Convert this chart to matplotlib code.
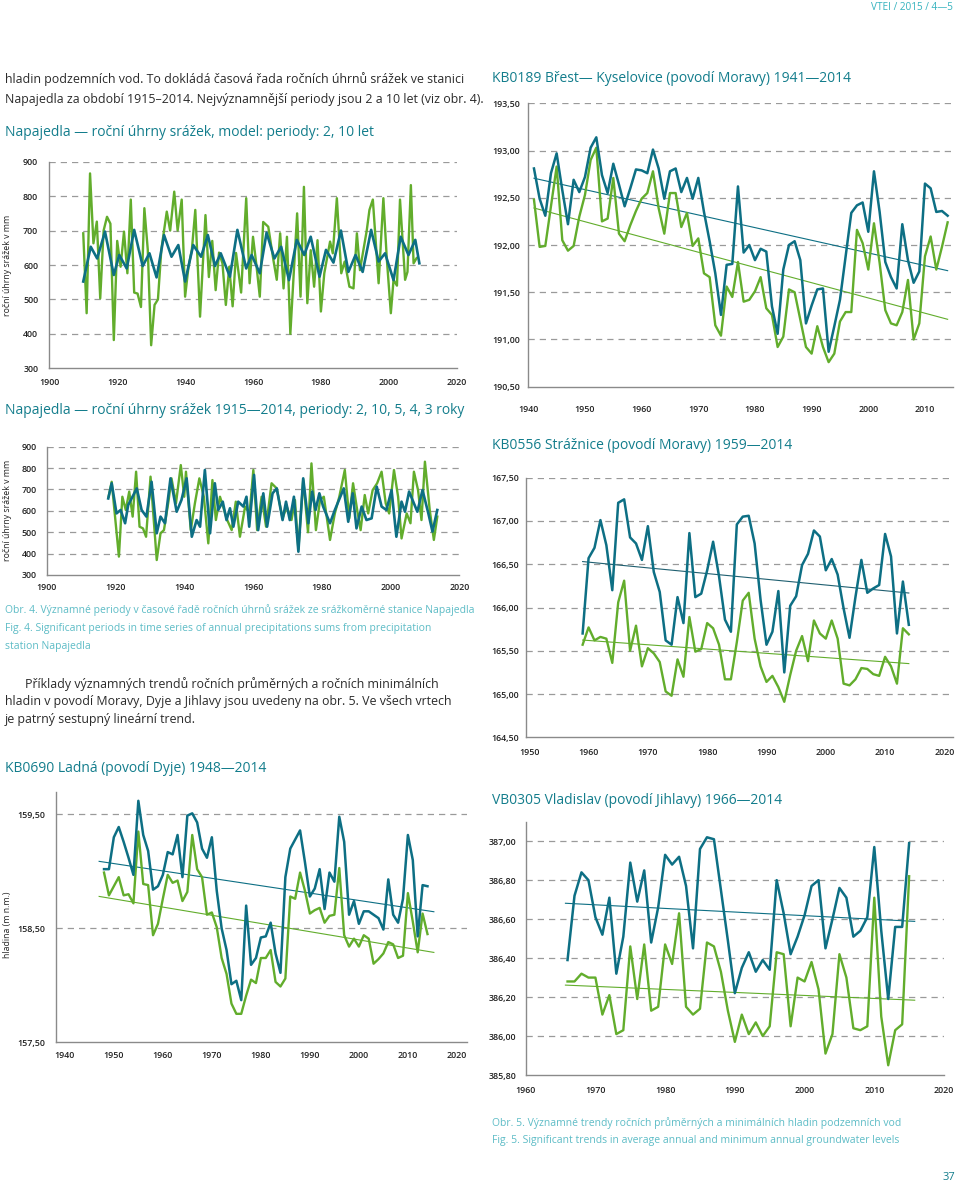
import numpy as np
import matplotlib
matplotlib.use("Agg")
import matplotlib.pyplot as plt
from matplotlib.ticker import FuncFormatter, MultipleLocator

plt.rcParams["font.family"] = ["Open Sans", "DejaVu Sans"]

W, H = 960, 1183
BLUE = "#0d6f84"
GREEN = "#62ad2c"
TITLE = "#137d8c"
CAPTION = "#5dbcc6"
AXIS = "#8a8a8a"
GRID = "#9a9a9a"

# ---------------------------------------------------------------------------
# data
# ---------------------------------------------------------------------------

# Napajedla, model periods 2, 10 let (measured series + model)
np1_green_years = [1910, 1911, 1912, 1913, 1914, 1915, 1916, 1917, 1918, 1919, 1920, 1921, 1922,
                   1923, 1924, 1925, 1926, 1927, 1928, 1929, 1930, 1931, 1932, 1933, 1934.6,
                   1935.6, 1936.8, 1937.8, 1939, 1940, 1941, 1942, 1943, 1944.4, 1946, 1947,
                   1948, 1949, 1950, 1951, 1952, 1953, 1954, 1955, 1956.5, 1958, 1959, 1960,
                   1961, 1962, 1963, 1964.5, 1966, 1967, 1968, 1969, 1970, 1971, 1972, 1973,
                   1974, 1975, 1976, 1977, 1978, 1979, 1980, 1981, 1982.7, 1983.5, 1984.7,
                   1986, 1987, 1988.4, 1989.6, 1990.6, 1991.5, 1993.5, 1994.3, 1995.3, 1997,
                   1998.4, 1999.4, 2000.6, 2001.4, 2002.4, 2003.3, 2004.8, 2005.5, 2006.5,
                   2007.3, 2008.2]
np1_green_vals = [692, 460, 866, 663, 726, 503, 700, 740, 720, 382, 670, 595, 697,
                  576, 790, 520, 517, 478, 765, 645, 367, 484, 500, 645, 755,
                  700, 813, 700, 790, 508, 595, 645, 760, 450, 745, 565,
                  670, 527, 636, 605, 484, 595, 480, 635, 520, 794, 547, 682,
                  600, 508, 725, 711, 615, 557, 692, 532, 682, 400, 576, 750,
                  508, 827, 489, 643, 537, 672, 465, 576, 668, 634, 794,
                  576, 610, 537, 532, 692, 585, 700, 760, 790, 547,
                  794, 620, 460, 557, 540, 790, 557, 580, 832,
                  605, 620]
np1_blue_years = [1910, 1912.2, 1914.1, 1916.4, 1919, 1920.6, 1922.8, 1925, 1927.5, 1929.5,
                  1931.6, 1933.8, 1936, 1938, 1940, 1942.4, 1944.7, 1946.7, 1948.8, 1950.5,
                  1953.2, 1955.4, 1958, 1959.6, 1962, 1964, 1966.3, 1968.3, 1970.6, 1972.9,
                  1975.1, 1977, 1979.6, 1981.5, 1983.7, 1985.9, 1988.1, 1990.2, 1992.3,
                  1994.8, 1997, 1998.9, 2001.4, 2003.5, 2005.8, 2007.8, 2009]
np1_blue_vals = [552, 653, 619, 697, 571, 629, 590, 702, 597, 634,
                 564, 687, 624, 658, 552, 658, 624, 687, 597, 634,
                 566, 702, 590, 629, 576, 694, 619, 653, 556, 673,
                 629, 682, 566, 644, 607, 700, 580, 629, 580,
                 702, 610, 634, 556, 682, 629, 673, 605]

# Napajedla 1915-2014, periods 2, 10, 5, 4, 3 roky
np2_green_years = [1918, 1918.9, 1921, 1922, 1923, 1924, 1925, 1926, 1927, 1928, 1928.9, 1930.2,
                   1932, 1933.1, 1934.1, 1935.4, 1936.3, 1937.6, 1939, 1940, 1940.5, 1941.9,
                   1943.1, 1944.4, 1945.7, 1947, 1948.2, 1949.2, 1950.4, 1951.6, 1952.5,
                   1953.8, 1955, 1956.2, 1957.7, 1959, 1960.1, 1961.2, 1962.5, 1963.8,
                   1965.4, 1966.9, 1968.6, 1969.8, 1971.2, 1972.2, 1973.2, 1974.6, 1976,
                   1977, 1978.3, 1979.5, 1980.6, 1982.4, 1983.8, 1985.1, 1986.7, 1988,
                   1989.1, 1990.3, 1991.3, 1992.5, 1993.5, 1994.8, 1996.1, 1997.4, 1998.6,
                   1999.6, 2001, 2002.2, 2003.2, 2004.7, 2005.8, 2006.8, 2008, 2009, 2010,
                   2011.4, 2012.6, 2013.6]
np2_green_vals = [666, 736, 386, 666, 604, 690, 573, 783, 526, 518, 479, 760,
                  370, 495, 510, 643, 752, 635, 814, 666, 783, 510,
                  635, 752, 666, 448, 744, 557, 666, 604, 557,
                  510, 643, 479, 620, 588, 791, 510, 666, 526,
                  729, 705, 565, 620, 557, 651, 420, 745, 500,
                  822, 510, 651, 666, 464, 588, 666, 791, 565,
                  729, 604, 510, 674, 588, 697, 729, 783, 635,
                  588, 791, 666, 471, 588, 542, 783, 697, 557, 830,
                  604, 464, 573]
np2_blue_years = [1917.9, 1918.9, 1920.3, 1921.5, 1922.8, 1923.7, 1926.2, 1927.6, 1929, 1930.5,
                  1932, 1933.1, 1934.4, 1936, 1937.8, 1939.2, 1940.7, 1942.2, 1943.6, 1944.6,
                  1946, 1947.5, 1948.9, 1949.9, 1951.2, 1952.3, 1953.3, 1954.3, 1955.7,
                  1957.2, 1958.1, 1958.9, 1960.3, 1961.5, 1963, 1964.1, 1965.7, 1966.9,
                  1968.6, 1969.6, 1970.7, 1971.9, 1973.2, 1974.6, 1976.1, 1977.2, 1978.2,
                  1979.3, 1980.4, 1982.4, 1983.8, 1986.4, 1987.7, 1989, 1990.1, 1991.6,
                  1993, 1994.5, 1996, 1997.4, 1998.8, 2000.3, 2001.7, 2003.2, 2004.2,
                  2005.4, 2006.6, 2007.8, 2009.3, 2011, 2012.2, 2013.6]
np2_blue_vals = [658, 729, 588, 604, 542, 627, 705, 604, 573, 736,
                 495, 573, 542, 752, 596, 651, 752, 479, 557, 526,
                 791, 495, 729, 604, 643, 557, 612, 526, 643,
                 620, 666, 526, 768, 510, 682, 526, 682, 705,
                 557, 643, 557, 666, 409, 752, 542, 690, 604,
                 682, 620, 542, 604, 705, 549, 682, 518, 620,
                 557, 565, 713, 620, 604, 697, 479, 643, 596,
                 690, 643, 596, 697, 588, 503, 604]

# KB0189 Brest - Kyselovice 1941-2014
kb0189_years = list(range(1941, 2015))
kb0189_mean = [192.81, 192.49, 192.31, 192.76, 192.97, 192.58, 192.22, 192.69, 192.56, 192.72,
               193.03, 193.14, 192.74, 192.55, 192.86, 192.64, 192.41, 192.60, 192.80, 192.79,
               192.76, 193.01, 192.81, 192.49, 192.78, 192.81, 192.56, 192.71, 192.49, 192.71,
               192.35, 192.04, 191.70, 191.26, 191.79, 191.80, 192.62, 191.92, 192.00, 191.84,
               191.96, 191.93, 191.35, 191.06, 191.74, 192.00, 192.04, 191.84, 191.17, 191.36,
               191.53, 191.54, 190.87, 191.14, 191.42, 191.88, 192.34, 192.42, 192.45, 192.14,
               192.78, 192.35, 191.82, 191.66, 191.54, 192.22, 191.84, 191.60, 191.72, 192.65,
               192.60, 192.35, 192.36, 192.31]
kb0189_min = [192.48, 191.98, 191.99, 192.41, 192.83, 192.05, 191.94, 191.99, 192.30, 192.53,
              192.90, 193.03, 192.25, 192.28, 192.71, 192.12, 192.04, 192.21, 192.36, 192.49,
              192.55, 192.78, 192.39, 192.12, 192.55, 192.55, 192.19, 192.34, 191.99, 192.07,
              191.70, 191.66, 191.15, 191.04, 191.56, 191.45, 191.82, 191.40, 191.42, 191.51,
              191.66, 191.33, 191.26, 190.92, 191.03, 191.53, 191.50, 191.21, 190.92, 190.85,
              191.14, 190.92, 190.76, 190.85, 191.19, 191.29, 191.29, 192.16, 192.02, 191.74,
              192.23, 191.81, 191.31, 191.17, 191.15, 191.29, 191.63, 191.00, 191.17, 191.88,
              192.09, 191.74, 191.98, 192.24]

# KB0556 Straznice 1959-2014
kb0556_years = list(range(1959, 2015))
kb0556_mean = [165.70, 166.57, 166.69, 167.01, 166.72, 166.20, 167.21, 167.25, 166.81, 166.74,
               166.55, 166.94, 166.41, 166.18, 165.62, 165.57, 166.12, 165.82, 166.86, 166.12,
               166.16, 166.43, 166.76, 166.36, 165.86, 165.72, 166.96, 167.05, 167.06, 166.74,
               166.09, 165.57, 165.72, 166.19, 165.25, 166.02, 166.13, 166.49, 166.62, 166.89,
               166.82, 166.43, 166.56, 166.38, 165.99, 165.65, 166.12, 166.55, 166.17, 166.22,
               166.26, 166.85, 166.59, 165.70, 166.30, 165.80]
kb0556_min = [165.57, 165.77, 165.62, 165.66, 165.64, 165.36, 166.06, 166.31, 165.50, 165.79,
              165.32, 165.53, 165.47, 165.37, 165.03, 164.98, 165.40, 165.20, 165.89, 165.49,
              165.52, 165.82, 165.76, 165.57, 165.17, 165.17, 165.60, 166.08, 166.17, 165.64,
              165.32, 165.14, 165.21, 165.08, 164.91, 165.22, 165.50, 165.67, 165.38, 165.85,
              165.70, 165.64, 165.85, 165.64, 165.12, 165.10, 165.17, 165.30, 165.29, 165.23,
              165.21, 165.43, 165.32, 165.12, 165.76, 165.69]

# KB0690 Ladna 1948-2014
kb0690_years = list(range(1948, 2015))
kb0690_mean = [159.02, 159.02, 159.30, 159.39, 159.26, 159.12, 158.97, 159.62, 159.32, 159.18,
               158.84, 158.87, 158.97, 159.17, 159.15, 159.32, 158.95, 159.49, 159.51, 159.43,
               159.20, 159.12, 159.30, 158.83, 158.50, 158.31, 158.01, 158.04, 157.87, 158.70,
               158.18, 158.24, 158.42, 158.43, 158.55, 158.28, 158.11, 158.95, 159.20, 159.28,
               159.36, 159.08, 158.78, 158.85, 159.02, 158.67, 158.99, 158.91, 159.48, 159.26,
               158.62, 158.74, 158.54, 158.65, 158.65, 158.62, 158.59, 158.49, 158.93, 158.62,
               158.55, 158.76, 159.32, 159.10, 158.43, 158.88, 158.87]
kb0690_min = [158.99, 158.79, 158.87, 158.95, 158.79, 158.80, 158.72, 159.35, 158.89, 158.88,
              158.44, 158.54, 158.76, 158.97, 158.90, 158.92, 158.74, 158.82, 159.32, 159.02,
              158.95, 158.62, 158.64, 158.51, 158.24, 158.10, 157.84, 157.75, 157.75, 157.91,
              158.05, 158.02, 158.24, 158.24, 158.31, 158.03, 157.99, 158.06, 158.78, 158.76,
              158.99, 158.83, 158.63, 158.66, 158.68, 158.55, 158.61, 158.62, 159.03, 158.44,
              158.34, 158.41, 158.34, 158.44, 158.41, 158.19, 158.23, 158.28, 158.38, 158.36,
              158.24, 158.26, 158.81, 158.56, 158.29, 158.63, 158.45]

# VB0305 Vladislav 1966-2015
vb0305_years = list(range(1966, 2016))
vb0305_mean = [386.39, 386.72, 386.84, 386.80, 386.61, 386.52, 386.71, 386.32, 386.51, 386.89,
               386.69, 386.85, 386.48, 386.66, 386.93, 386.88, 386.92, 386.77, 386.45, 386.96,
               387.02, 387.01, 386.75, 386.49, 386.22, 386.35, 386.43, 386.33, 386.39, 386.34,
               386.80, 386.63, 386.42, 386.51, 386.62, 386.77, 386.80, 386.45, 386.60, 386.76,
               386.71, 386.51, 386.54, 386.61, 386.97, 386.54, 386.19, 386.56, 386.56, 386.99]
vb0305_min = [386.28, 386.28, 386.32, 386.30, 386.30, 386.11, 386.21, 386.01, 386.03, 386.46,
              386.19, 386.47, 386.13, 386.15, 386.47, 386.37, 386.63, 386.15, 386.11, 386.14,
              386.48, 386.46, 386.33, 386.13, 385.97, 386.11, 386.01, 386.07, 386.00, 386.05,
              386.43, 386.42, 386.05, 386.30, 386.28, 386.38, 386.24, 385.91, 386.01, 386.42,
              386.30, 386.04, 386.03, 386.05, 386.71, 386.10, 385.85, 386.03, 386.06, 386.82]


# ---------------------------------------------------------------------------
# helpers
# ---------------------------------------------------------------------------

def px_axes(fig, left, top, right, bottom):
    return fig.add_axes([left / W, 1 - bottom / H, (right - left) / W, (bottom - top) / H])


def ftext(fig, x, y, s, **kw):
    kw.setdefault("va", "center")
    fig.text(x / W, 1 - y / H, s, **kw)


def comma(decimals):
    return FuncFormatter(lambda v, _: f"{v:.{decimals}f}".replace(".", ","))


def style_axes(ax, xlim, ylim, xticks, yticks, grid_vals, ydec, xpad, ypad):
    ax.set_xlim(*xlim)
    ax.set_ylim(*ylim)
    for side in ("top", "right"):
        ax.spines[side].set_visible(False)
    for side in ("left", "bottom"):
        ax.spines[side].set_color(AXIS)
        ax.spines[side].set_linewidth(1.0)
    ax.set_xticks(xticks)
    ax.set_yticks(yticks)
    if ydec is None:
        ax.yaxis.set_major_formatter(FuncFormatter(lambda v, _: f"{v:.0f}"))
    else:
        ax.yaxis.set_major_formatter(comma(ydec))
    ax.tick_params(axis="both", length=0, labelsize=6.4, labelcolor="#222222")
    ax.tick_params(axis="x", pad=xpad)
    ax.tick_params(axis="y", pad=ypad)
    for lab in ax.get_xticklabels() + ax.get_yticklabels():
        lab.set_fontweight("semibold")
    for g in grid_vals:
        ax.axhline(g, color=GRID, lw=0.9, ls=(0, (5, 4)), zorder=1)
    ax.patch.set_alpha(0)


def trend(ax, years, vals, color, x0=None, x1=None):
    k, q = np.polyfit(years, vals, 1)
    xs = np.array([years[0] if x0 is None else x0, years[-1] if x1 is None else x1])
    ax.plot(xs, k * xs + q, color=color, lw=0.8, zorder=3)


fig = plt.figure(figsize=(W / 100, H / 100), dpi=100)

# ---------------------------------------------------------------------------
# page text
# ---------------------------------------------------------------------------
ftext(fig, 953, 7, "VTEI / 2015 / 4—5", ha="right", fontsize=7.2, color="#36b3bf")
body = dict(fontsize=8.9, color="#2b2b2b")
title = dict(fontsize=10.0, color=TITLE)
cap = dict(fontsize=7.5, color=CAPTION)
ftext(fig, 5, 79, "hladin podzemních vod. To dokládá časová řada ročních úhrnů srážek ve stanici", **body)
ftext(fig, 5, 99, "Napajedla za období 1915–2014. Nejvýznamnější periody jsou 2 a 10 let (viz obr. 4).", **body)
ftext(fig, 5, 132, "Napajedla — roční úhrny srážek, model: periody: 2, 10 let", **title)
ftext(fig, 5, 411, "Napajedla — roční úhrny srážek 1915—2014, periody: 2, 10, 5, 4, 3 roky", **title)
ftext(fig, 5, 610, "Obr. 4. Významné periody v časové řadě ročních úhrnů srážek ze srážkoměrné stanice Napajedla", **cap)
ftext(fig, 5, 629, "Fig. 4. Significant periods in time series of annual precipitations sums from precipitation", **cap)
ftext(fig, 5, 647, "station Napajedla", **cap)
ftext(fig, 25, 684, "Příklady významných trendů ročních průměrných a ročních minimálních", **body)
ftext(fig, 5, 702, "hladin v povodí Moravy, Dyje a Jihlavy jsou uvedeny na obr. 5. Ve všech vrtech", **body)
ftext(fig, 5, 720, "je patrný sestupný lineární trend.", **body)
ftext(fig, 5, 768, "KB0690 Ladná (povodí Dyje) 1948—2014", **title)
ftext(fig, 492, 79, "KB0189 Břest— Kyselovice (povodí Moravy) 1941—2014", **title)
ftext(fig, 492, 445, "KB0556 Strážnice (povodí Moravy) 1959—2014", **title)
ftext(fig, 492, 800, "VB0305 Vladislav (povodí Jihlavy) 1966—2014", **title)
ftext(fig, 492, 1123, "Obr. 5. Významné trendy ročních průměrných a minimálních hladin podzemních vod", **cap)
ftext(fig, 492, 1141, "Fig. 5. Significant trends in average annual and minimum annual groundwater levels", **cap)
ftext(fig, 955, 1177, "37", ha="right", fontsize=8, color=TITLE)

ylab = dict(rotation=90, ha="center", fontsize=6.3, color="#222222")
ftext(fig, 8, 265, "roční úhrny srážek v mm", **ylab)
ftext(fig, 8, 510, "roční úhrny srážek v mm", **ylab)
ftext(fig, 8, 925, "hladina (m n.m.)", **ylab)

# ---------------------------------------------------------------------------
# Napajedla model
# ---------------------------------------------------------------------------
ax = px_axes(fig, 49.3, 161.7, 456.7, 368.3)
style_axes(ax, (1900, 2020), (300, 900), range(1900, 2021, 20), range(300, 901, 100),
           range(400, 901, 100), None, 7, 8)
ax.plot(np1_green_years, np1_green_vals, color=GREEN, lw=1.7, zorder=4, solid_joinstyle="round")
ax.plot(np1_blue_years, np1_blue_vals, color=BLUE, lw=1.9, zorder=5, solid_joinstyle="round")

# Napajedla periods
ax = px_axes(fig, 46.7, 446.7, 459.3, 575)
style_axes(ax, (1900, 2020), (300, 900), range(1900, 2021, 20), range(300, 901, 100),
           range(400, 901, 100), None, 6, 7)
ax.plot(np2_green_years, np2_green_vals, color=GREEN, lw=1.7, zorder=4, solid_joinstyle="round")
ax.plot(np2_blue_years, np2_blue_vals, color=BLUE, lw=1.9, zorder=5, solid_joinstyle="round")

# KB0189
ax = px_axes(fig, 528.3, 103.3, 953.3, 386.7)
style_axes(ax, (1940, 2015), (190.5, 193.5), range(1940, 2011, 10), np.arange(190.5, 193.51, 0.5),
           np.arange(191.0, 193.51, 0.5), 2, 13, 6)
ax.plot(kb0189_years, kb0189_min, color=GREEN, lw=1.7, zorder=4)
ax.plot(kb0189_years, kb0189_mean, color=BLUE, lw=1.8, zorder=5)
trend(ax, kb0189_years, kb0189_mean, BLUE)
trend(ax, kb0189_years, kb0189_min, GREEN)

# KB0556
ax = px_axes(fig, 525.7, 477.7, 953.3, 737.3)
style_axes(ax, (1949.4, 2021.5), (164.5, 167.5), range(1950, 2021, 10), np.arange(164.5, 167.51, 0.5),
           np.arange(165.0, 167.51, 0.5), 2, 8, 5)
ax.plot(kb0556_years, kb0556_min, color=GREEN, lw=1.7, zorder=4)
ax.plot(kb0556_years, kb0556_mean, color=BLUE, lw=1.8, zorder=5)
trend(ax, kb0556_years, kb0556_mean, "#1f5f70")
trend(ax, kb0556_years, kb0556_min, GREEN)

# KB0690
ax = px_axes(fig, 56, 791.7, 466.7, 1042.3)
style_axes(ax, (1938.2, 2022), (157.5, 159.7), range(1940, 2021, 10), [157.5, 158.5, 159.5],
           [158.5, 159.5], 2, 6, 8)
ax.plot(kb0690_years, kb0690_min, color=GREEN, lw=1.7, zorder=4)
ax.plot(kb0690_years, kb0690_mean, color=BLUE, lw=1.8, zorder=5)
trend(ax, kb0690_years, kb0690_mean, BLUE, 1947, 2015.3)
trend(ax, kb0690_years, kb0690_min, GREEN, 1947, 2015.3)

# VB0305
ax = px_axes(fig, 525.7, 821.7, 944, 1075)
style_axes(ax, (1960, 2020), (385.8, 387.1), range(1960, 2021, 10), np.arange(385.8, 387.01, 0.2),
           np.arange(386.0, 387.01, 0.2), 2, 8, 7)
ax.plot(vb0305_years, vb0305_min, color=GREEN, lw=1.7, zorder=4)
ax.plot(vb0305_years, vb0305_mean, color=BLUE, lw=1.8, zorder=5)
trend(ax, vb0305_years, vb0305_mean, BLUE, 1965.7, 2015.8)
trend(ax, vb0305_years, vb0305_min, GREEN, 1965.7, 2015.8)

fig.savefig("out.png", dpi=100)
